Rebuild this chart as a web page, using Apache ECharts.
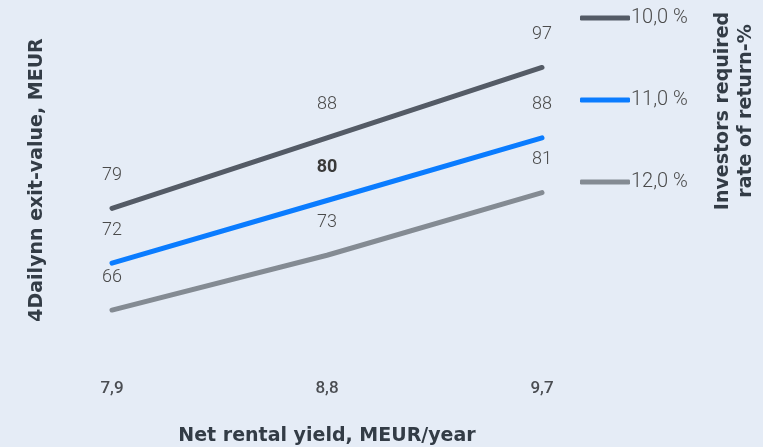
<!DOCTYPE html>
<html>
<head>
<meta charset="utf-8">
<script src="https://cdn.jsdelivr.net/npm/echarts@6/dist/echarts.min.js"></script>
<style>
  html, body { margin: 0; padding: 0; background: #e5ecf6; }
  #chart { width: 763px; height: 447px; }
</style>
</head>
<body>
<div id="chart"></div>
<script>
// Net rental yield scenarios (MEUR/year)
const categories = ['7,9', '8,8', '9,7'];
// Exit value (MEUR) per required rate of return
const rate10 = [79, 88, 97];
const rate11 = [72, 80, 88];
const rate12 = [66, 73, 81];
const seriesNames = ['10,0 %', '11,0 %', '12,0 %'];
const seriesColors = ['#545b66', '#0a7cff', '#848b93'];

const labelBase = {
  show: true,
  position: 'top',
  distance: 24,
  fontFamily: 'Roboto',
  fontWeight: 300,
  fontSize: 18,
  color: '#4a4a4a'
};

function lineSeries(name, data, color, labelExtra) {
  return {
    name: name,
    type: 'line',
    data: data,
    symbol: 'circle',
    symbolSize: 0,
    showSymbol: true,
    lineStyle: { width: 5, color: color, cap: 'round' },
    itemStyle: { color: color },
    label: Object.assign({}, labelBase, labelExtra || {}),
    emphasis: { disabled: true },
    animation: false
  };
}

const chart = echarts.init(document.getElementById('chart'));
chart.setOption({
  backgroundColor: '#e5ecf6',
  animation: false,
  grid: { left: 112, right: 221, top: 44, bottom: 90, outerBoundsMode: 'none' },
  xAxis: {
    type: 'category',
    data: categories,
    boundaryGap: false,
    axisLine: { show: false },
    axisTick: { show: false },
    splitLine: { show: false },
    axisLabel: {
      margin: 23,
      fontFamily: 'Roboto',
      fontWeight: 500,
      fontSize: 17,
      color: '#4a4d52'
    },
    name: 'Net rental yield, MEUR/year',
    nameLocation: 'middle',
    nameGap: 70,
    nameTextStyle: {
      fontFamily: 'DejaVu Sans',
      fontWeight: 'bold',
      fontSize: 19,
      color: '#333c46'
    }
  },
  yAxis: {
    type: 'value',
    min: 60,
    max: 100,
    show: false
  },
  legend: {
    orient: 'vertical',
    left: 580,
    top: 8,
    padding: 0,
    itemGap: 62,
    itemWidth: 50,
    itemHeight: 5,
    icon: 'roundRect',
    selectedMode: false,
    textStyle: {
      fontFamily: 'Roboto',
      fontWeight: 300,
      fontSize: 20,
      color: '#4a4a4a',
      padding: [0, 0, 0, -4]
    },
    data: seriesNames
  },
  graphic: [
    {
      type: 'text',
      x: 37,
      y: 180,
      rotation: Math.PI / 2,
      style: {
        text: '4Dailynn exit-value, MEUR',
        font: 'bold 19px "DejaVu Sans"',
        fill: '#333c46',
        align: 'center',
        verticalAlign: 'middle'
      }
    },
    {
      type: 'text',
      x: 735,
      y: 111,
      rotation: Math.PI / 2,
      style: {
        text: 'Investors required\nrate of return-%',
        font: 'bold 19px "DejaVu Sans"',
        lineHeight: 23,
        fill: '#333c46',
        align: 'center',
        verticalAlign: 'middle'
      }
    }
  ],
  series: [
    lineSeries(seriesNames[0], rate10, seriesColors[0]),
    lineSeries(seriesNames[1], rate11, seriesColors[1], {
      formatter: function (p) { return p.dataIndex === 1 ? '{b|' + p.value + '}' : String(p.value); },
      rich: { b: { fontFamily: 'Roboto', fontWeight: 'bold', fontSize: 18, color: '#3a3a3a' } }
    }),
    lineSeries(seriesNames[2], rate12, seriesColors[2])
  ]
});
</script>
</body>
</html>
